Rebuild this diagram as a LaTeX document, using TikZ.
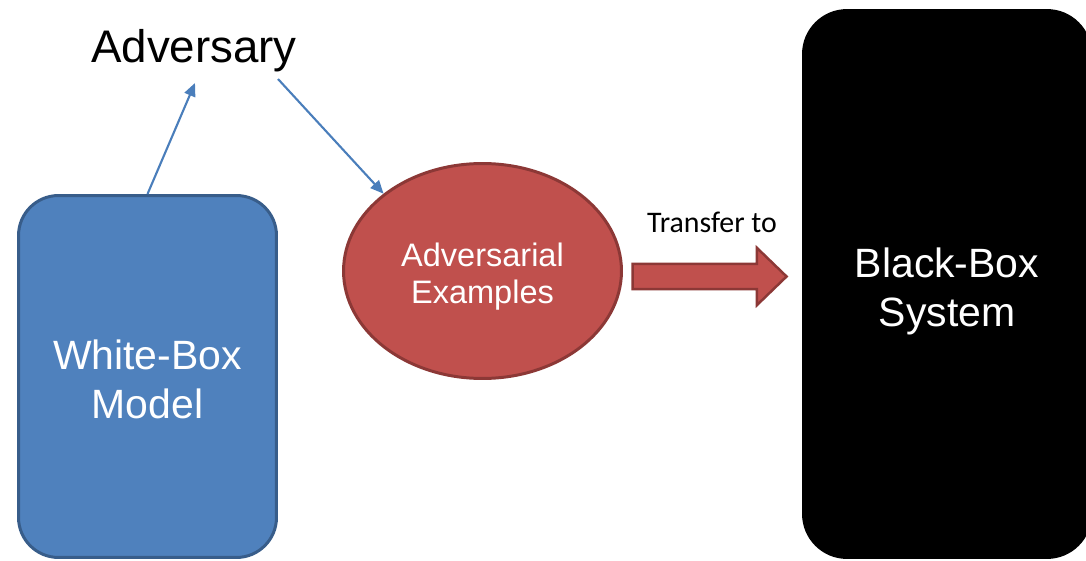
\documentclass[tikz,border=0pt]{standalone}
\usepackage{fontspec}
\setmainfont{Liberation Sans}
\newfontfamily\captionfont{Carlito}
\usepackage {tikz}
\usetikzlibrary {positioning}
\usetikzlibrary{shapes.geometric}
\usetikzlibrary{shapes.arrows}
\usetikzlibrary{arrows.meta}
\definecolor{modelblue}{HTML}{4F81BD}
\definecolor{modelline}{HTML}{385D8A}
\definecolor{examplered}{HTML}{C0504D}
\definecolor{exampleline}{HTML}{8C3836}
\definecolor{linkblue}{HTML}{4A7EBB}
\tikzset{
    bigtext/.style = {font=\fontsize{23.3}{28}\selectfont, text=white, align=center},
    smalltext/.style = {font=\fontsize{18.5}{21}\selectfont, text=white, align=center},
    whitebox/.style = {rectangle, rounded corners=0.8cm, draw=modelline, fill=modelblue,
        line width=1.7pt, minimum width=5.16cm, minimum height=7.24cm},
    blackbox/.style = {rectangle, rounded corners=0.9cm, fill=black,
        minimum width=5.8cm, minimum height=11cm},
    examples/.style = {ellipse, draw=exampleline, fill=examplered, line width=1.7pt,
        minimum width=5.56cm, minimum height=4.3cm, inner sep=0pt},
    transfer/.style = {single arrow, draw=exampleline, fill=examplered, line width=1.4pt,
        minimum height=3.08cm, inner xsep=0pt, inner ysep=0.23cm,
        single arrow head extend=0.32cm, single arrow tip angle=88},
    link/.style = {draw=linkblue, line width=1.2pt, -{Triangle[length=7.5pt,width=6.5pt]}}}

\begin{document}
\begin{tikzpicture}[x=0.02cm,y=-0.02cm]
    \useasboundingbox (0,0) rectangle (1086,561);
    \path (147.5,376.5) node[whitebox] (wbox) {}
        (194,51) node[font=\fontsize{26}{30}\selectfont] (adv) {Adversary}
        (482.5,271) node[examples] (ae) {}
        (703,276.5) node[transfer] (tarrow) {}
        (712,222) node[font=\captionfont\fontsize{17}{20}\selectfont] (tlabel) {Transfer to}
        (947,284) node[blackbox] (bbox) {};
    % box texts sit a little below the shape centres
    \node[bigtext] (wtext) at ([yshift=-0.06cm]wbox.center) {White-Box\\Model};
    \node[smalltext] (aetext) at ([yshift=-0.11cm]ae.center) {Adversarial\\Examples};
    \node[bigtext] (btext) at ([yshift=-0.15cm]bbox.center) {Black-Box\\System};
    % ends of the two links next to the adversary label
    \coordinate (advin) at (195,83);
    \coordinate (advout) at (278,79);
    \draw[link] (wbox.north) -- (advin);
    \draw[link] (advout) -- (ae.142);
\end{tikzpicture}
\end{document}
